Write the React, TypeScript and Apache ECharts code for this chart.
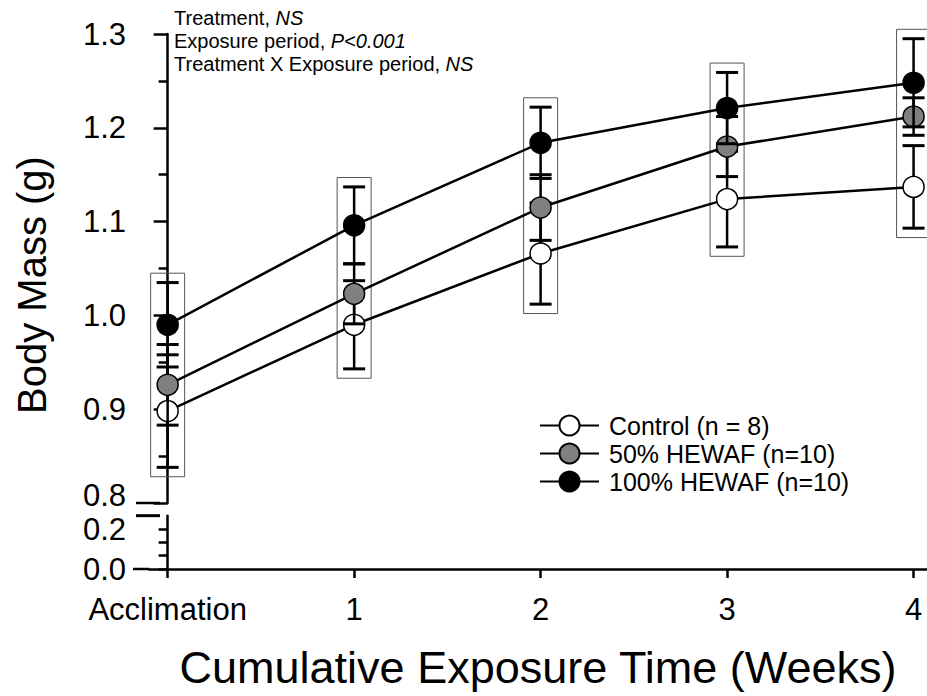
import React, { useEffect, useRef } from 'react';
import * as echarts from 'echarts';

// Exposure periods (x categories)
const weekLabels = ['Acclimation', '1', '2', '3', '4'];

// Mean body mass (g) and standard error per exposure period
const controlMean = [0.898, 0.990, 1.066, 1.124, 1.137];
const controlSE = [0.060, 0.047, 0.054, 0.051, 0.044];
const hewaf50Mean = [0.926, 1.023, 1.115, 1.180, 1.212];
const hewaf50SE = [0.043, 0.032, 0.035, 0.032, 0.020];
const hewaf100Mean = [0.990, 1.096, 1.184, 1.221, 1.248];
const hewaf100SE = [0.045, 0.041, 0.038, 0.038, 0.047];

// Axis tick values
const upperTicks = [0.8, 0.9, 1.0, 1.1, 1.2, 1.3];
const lowerLabelTicks = [0, 0.2];
const lowerMinorTicks = [0, 0.0667, 0.1333, 0.2];

const FONT = '"Liberation Sans", Arial, Helvetica, sans-serif';
const TICK_FONT = 31;

const groups = [
  { name: 'Control (n = 8)', mean: controlMean, se: controlSE, fill: '#ffffff' },
  { name: '50% HEWAF (n=10)', mean: hewaf50Mean, se: hewaf50SE, fill: '#808080' },
  { name: '100% HEWAF (n=10)', mean: hewaf100Mean, se: hewaf100SE, fill: '#000000' },
];

const errorBarRender = (params: any, api: any) => {
  const x = api.value(0);
  const lo = api.coord([x, api.value(1)]);
  const hi = api.coord([x, api.value(2)]);
  const hw = 11;
  const style = { stroke: '#000', lineWidth: 2.5 };
  const capStyle = { stroke: '#000', lineWidth: 3 };
  return {
    type: 'group',
    children: [
      { type: 'line', shape: { x1: lo[0], y1: lo[1], x2: hi[0], y2: hi[1] }, style },
      { type: 'line', shape: { x1: lo[0] - hw, y1: lo[1], x2: lo[0] + hw, y2: lo[1] }, style: capStyle },
      { type: 'line', shape: { x1: hi[0] - hw, y1: hi[1], x2: hi[0] + hw, y2: hi[1] }, style: capStyle },
    ],
  };
};

const boxRender = (params: any, api: any) => {
  const x = api.value(0);
  const lo = api.coord([x, api.value(1)]);
  const hi = api.coord([x, api.value(2)]);
  const hw = 17;
  return {
    type: 'rect',
    shape: { x: lo[0] - hw, y: hi[1], width: hw * 2, height: lo[1] - hi[1] },
    style: { fill: 'none', stroke: '#555', lineWidth: 1 },
  };
};

export default function App() {
  const ref = useRef<HTMLDivElement>(null);

  useEffect(() => {
    if (!ref.current) return;
    const chart = echarts.init(ref.current, null, { renderer: 'svg' });

    // Frame around each exposure period, spanning all error bars
    const boxData = weekLabels.map((_, i) => {
      const highs = groups.map((g) => g.mean[i] + g.se[i]);
      const lows = groups.map((g) => g.mean[i] - g.se[i]);
      return [i, Math.min(...lows) - 0.01, Math.max(...highs) + 0.01];
    });

    const series: any[] = [
      {
        type: 'custom',
        name: 'frames',
        xAxisIndex: 0,
        yAxisIndex: 0,
        renderItem: boxRender,
        data: boxData,
        encode: { x: 0, y: [1, 2] },
        z: 1,
        silent: true,
      },
    ];
    groups.forEach((g, gi) => {
      series.push({
        type: 'custom',
        name: g.name + ' SE',
        xAxisIndex: 0,
        yAxisIndex: 0,
        renderItem: errorBarRender,
        data: g.mean.map((m, i) => [i, m - g.se[i], m + g.se[i]]),
        encode: { x: 0, y: [1, 2] },
        z: 2 + gi * 2,
        silent: true,
      });
      series.push({
        type: 'line',
        name: g.name,
        xAxisIndex: 0,
        yAxisIndex: 0,
        data: g.mean.map((m, i) => [i, m]),
        symbol: 'circle',
        symbolSize: 21,
        showAllSymbol: true,
        lineStyle: { color: '#000', width: 2.5 },
        itemStyle: { color: g.fill, borderColor: '#000', borderWidth: 1.5 },
        z: 3 + gi * 2,
      });
    });

    chart.setOption({
      animation: false,
      backgroundColor: '#ffffff',
      grid: [
        { left: 149, right: 0, top: 34, height: 469 },
        { left: 149, right: 0, top: 569 - 53.33, height: 53.33 },
      ],
      xAxis: [
        { type: 'value', gridIndex: 0, min: -0.1, max: 4.072, show: false },
        {
          type: 'value',
          gridIndex: 1,
          min: -0.1,
          max: 4.072,
          axisLine: { show: true, lineStyle: { color: '#000', width: 2.5 } },
          axisTick: {
            show: true,
            length: 9,
            customValues: weekLabels.map((_, i) => i),
            lineStyle: { color: '#000', width: 2.5 },
          },
          axisLabel: {
            customValues: weekLabels.map((_, i) => i),
            formatter: (v: number) => weekLabels[Math.round(v)] ?? '',
            fontSize: TICK_FONT,
            fontFamily: FONT,
            color: '#000',
            margin: 25,
          },
          splitLine: { show: false },
        },
      ],
      yAxis: [
        {
          type: 'value',
          gridIndex: 0,
          min: 0.8,
          max: 1.3,
          interval: 0.1,
          axisLine: { show: true, lineStyle: { color: '#000', width: 2.5 } },
          axisTick: { show: true, length: 14, lineStyle: { color: '#000', width: 2.5 } },
          minorTick: { show: true, splitNumber: 2, length: 9, lineStyle: { color: '#000', width: 2.5 } },
          axisLabel: {
            customValues: upperTicks,
            formatter: (v: number) => (Math.abs(v - 0.8) < 1e-6 ? '{up|0.8}' : v.toFixed(1)),
            rich: { up: { fontSize: TICK_FONT, fontFamily: FONT, color: '#000', padding: [0, 0, 15, 0] } },
            fontSize: TICK_FONT,
            fontFamily: FONT,
            color: '#000',
            margin: 23,
          },
          splitLine: { show: false },
        },
        {
          type: 'value',
          gridIndex: 1,
          min: 0,
          max: 0.2667,
          axisLine: { show: true, lineStyle: { color: '#000', width: 2.5 } },
          axisTick: { show: true, length: 9, customValues: lowerMinorTicks, lineStyle: { color: '#000', width: 2.5 } },
          axisLabel: {
            customValues: lowerLabelTicks,
            formatter: (v: number) => v.toFixed(1),
            fontSize: TICK_FONT,
            fontFamily: FONT,
            color: '#000',
            margin: 23,
          },
          splitLine: { show: false },
        },
      ],
      legend: {
        orient: 'vertical',
        left: 534,
        top: 408,
        itemWidth: 59,
        itemHeight: 25,
        itemGap: 3,
        data: groups.map((g) => g.name),
        textStyle: { fontSize: 25, fontFamily: FONT, color: '#000', padding: [0, 0, 0, 5] },
        selectedMode: false,
      },
      series,
    });

    // Axis break marks and titles, positioned from the axes themselves
    const pUpperBottom = chart.convertToPixel({ gridIndex: 0 }, [-0.1, 0.8]) as number[];
    const pLowerTop = chart.convertToPixel({ gridIndex: 1 }, [-0.1, 0.2667]) as number[];
    const pOrigin = chart.convertToPixel({ gridIndex: 1 }, [-0.1, 0]) as number[];
    const pUpperTop = chart.convertToPixel({ gridIndex: 0 }, [-0.1, 1.3]) as number[];

    chart.setOption({
      graphic: [
        {
          type: 'line',
          shape: { x1: pUpperBottom[0] - 13, y1: pUpperBottom[1], x2: pUpperBottom[0] + 11, y2: pUpperBottom[1] },
          style: { stroke: '#000', lineWidth: 2.5 },
        },
        {
          type: 'line',
          shape: { x1: pLowerTop[0] - 13, y1: pLowerTop[1], x2: pLowerTop[0] + 11, y2: pLowerTop[1] },
          style: { stroke: '#000', lineWidth: 3 },
        },
        {
          type: 'line',
          shape: { x1: pOrigin[0] - 16, y1: pOrigin[1], x2: pOrigin[0], y2: pOrigin[1] },
          style: { stroke: '#000', lineWidth: 2.5 },
        },
        {
          type: 'text',
          x: pUpperTop[0] + 25,
          y: 6,
          style: {
            text:
              '{a|Treatment, }{b|NS}\n{a|Exposure period, }{b|P<0.001}\n{a|Treatment X Exposure period, }{b|NS}',
            rich: {
              a: { fontSize: 20, fontFamily: FONT, fill: '#000', lineHeight: 23 },
              b: { fontSize: 20, fontFamily: FONT, fill: '#000', fontStyle: 'italic', lineHeight: 23 },
            },
          },
        },
        {
          type: 'text',
          x: 538,
          y: 667,
          style: {
            text: 'Cumulative Exposure Time (Weeks)',
            fontSize: 45,
            fontFamily: FONT,
            fill: '#000',
            align: 'center',
            verticalAlign: 'middle',
          },
        },
        {
          type: 'text',
          x: 32,
          y: 285,
          rotation: Math.PI / 2,
          style: {
            text: 'Body Mass (g)',
            fontSize: 40,
            fontFamily: FONT,
            fill: '#000',
            align: 'center',
            verticalAlign: 'middle',
          },
        },
      ],
    });

    return () => chart.dispose();
  }, []);

  return (
    <div
      ref={ref}
      style={{ position: 'fixed', left: 0, top: 0, width: 927, height: 696, background: '#fff' }}
    />
  );
}
